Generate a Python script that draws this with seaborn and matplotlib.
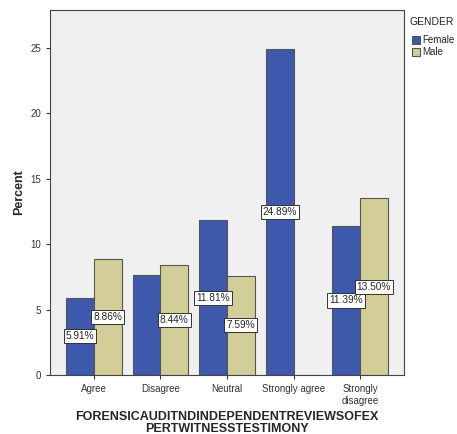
import pandas as pd
import matplotlib
matplotlib.use("Agg")
import matplotlib.pyplot as plt
import seaborn as sns

# data (percent of all respondents)
categories = ["Agree", "Disagree", "Neutral", "Strongly agree", "Strongly\ndisagree"]
female = [5.91, 7.61, 11.81, 24.89, 11.39]
male = [8.86, 8.44, 7.59, 0.0, 13.50]
# which bars carry a value label in the original
female_labelled = [True, False, True, True, True]
male_labelled = [True, True, True, False, True]

df = pd.DataFrame({
    "category": categories * 2,
    "GENDER": ["Female"] * 5 + ["Male"] * 5,
    "Percent": female + male,
})

sns.set_style("white")
plt.rcParams["font.family"] = ["Liberation Sans", "DejaVu Sans"]

fig = plt.figure(figsize=(4.57, 4.34), dpi=100)
ax = fig.add_axes([50 / 457, 59 / 434, 354 / 457, 365 / 434])
ax.set_facecolor("#f0f0f0")

sns.barplot(data=df, x="category", y="Percent", hue="GENDER",
            palette={"Female": "#3e58ac", "Male": "#d3ce97"},
            width=0.83, edgecolor="#555555", linewidth=0.8,
            saturation=1, ax=ax)

# value labels in white boxes, centred in each bar
for cont, vals, show in zip(ax.containers, [female, male], [female_labelled, male_labelled]):
    for patch, v, s in zip(cont.patches, vals, show):
        if not s:
            continue
        x = patch.get_x() + patch.get_width() / 2
        ax.text(x, v / 2, f"{v:.2f}%", ha="center", va="center", fontsize=7.3,
                bbox=dict(boxstyle="square,pad=0.2", fc="white", ec="#333333", lw=0.7))

ax.set_xlim(-0.66, 4.66)
ax.set_ylim(0, 27.9)
ax.set_yticks([0, 5, 10, 15, 20, 25])
ax.tick_params(axis="both", labelsize=7, length=3, width=0.8, direction="out",
               bottom=True, left=True, colors="#333333")
for sp in ax.spines.values():
    sp.set_color("#444444")
    sp.set_linewidth(0.8)

ax.set_ylabel("Percent", fontsize=9, fontweight="bold")
ax.set_xlabel("FORENSICAUDITNDINDEPENDENTREVIEWSOFEX\nPERTWITNESSTESTIMONY",
              fontsize=9, fontweight="bold", linespacing=0.95)

# legend: title sits apart from the entries, as in the original
fig.text(410 / 457, 1 - 22 / 434, "GENDER", fontsize=7.5, va="center", ha="left",
         color="#222222")
ax.legend(loc="upper left", bbox_to_anchor=(412 / 457, 1 - 35 / 434),
          bbox_transform=fig.transFigure, frameon=False, fontsize=7,
          handlelength=0.85, handleheight=0.85, handletextpad=0.25,
          borderaxespad=0, borderpad=0, labelspacing=0.25)

fig.savefig("out.png", dpi=100)
